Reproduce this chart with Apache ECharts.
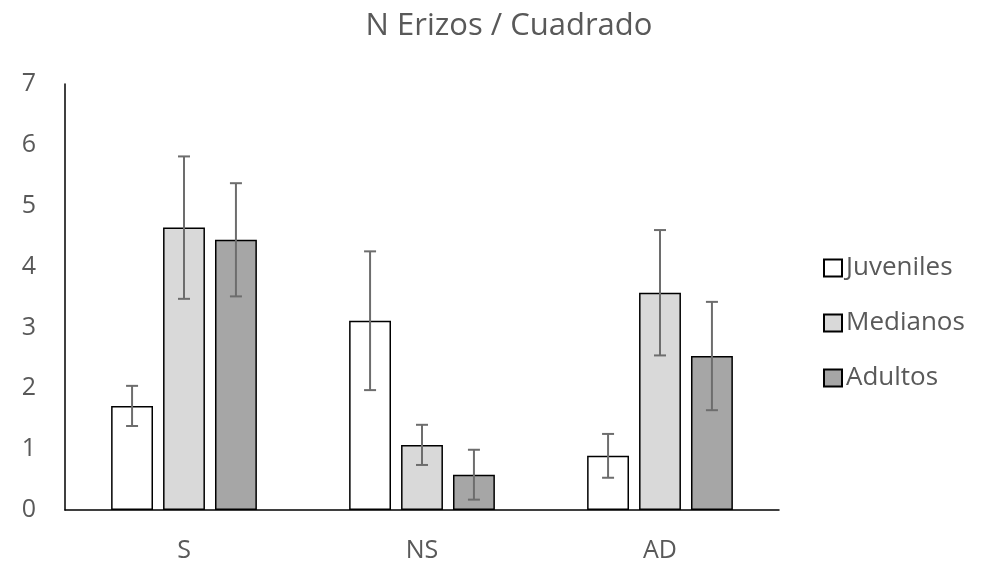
<!DOCTYPE html>
<html>
<head>
<meta charset="utf-8">
<script src="https://cdn.jsdelivr.net/npm/echarts@6/dist/echarts.min.js"></script>
<style>html,body{margin:0;padding:0;background:#fff}#c{width:981px;height:564px}</style>
</head>
<body>
<div id="c"></div>
<script>
const categories = ['S', 'NS', 'AD'];
const seriesNames = ['Juveniles', 'Medianos', 'Adultos'];
const juveniles = [1.71, 3.11, 0.89];
const medianos = [4.64, 1.07, 3.57];
const adultos = [4.44, 0.58, 2.53];
const juvenilesErr = [0.33, 1.14, 0.36];
const medianosErr = [1.17, 0.33, 1.03];
const adultosErr = [0.93, 0.41, 0.89];
const yTicks = [0, 1, 2, 3, 4, 5, 6, 7];

const values = [juveniles, medianos, adultos];
const errs = [juvenilesErr, medianosErr, adultosErr];
const colors = ['#ffffff', '#d9d9d9', '#a6a6a6'];
const FONT = 'Open Sans';
const BW = 0.176, GAP = 0.24;

const chart = echarts.init(document.getElementById('c'));
const series = [];
values.forEach((v, i) => {
  series.push({
    name: seriesNames[i], type: 'bar', data: v,
    barWidth: (BW * 100) + '%', barGap: (GAP * 100) + '%',
    itemStyle: { color: colors[i], borderColor: '#000', borderWidth: 1.5 },
    emphasis: { disabled: true }, z: 2
  });
});
values.forEach((v, i) => {
  series.push({
    type: 'custom', z: 5, silent: true,
    data: v.map((m, k) => [k, m - errs[i][k], m + errs[i][k]]),
    encode: { x: 0, y: [1, 2] },
    renderItem: function (params, api) {
      const band = api.size([1, 0])[0];
      const bw = band * BW;
      const off = (i - 1) * (bw + bw * GAP);
      const lo = api.coord([api.value(0), api.value(1)]);
      const hi = api.coord([api.value(0), api.value(2)]);
      const x = lo[0] + off;
      const cap = 6;
      const st = { stroke: '#6d6d6d', lineWidth: 2 };
      return { type: 'group', children: [
        { type: 'line', shape: { x1: x, y1: lo[1], x2: x, y2: hi[1] }, style: st },
        { type: 'line', shape: { x1: x - cap, y1: lo[1], x2: x + cap, y2: lo[1] }, style: st },
        { type: 'line', shape: { x1: x - cap, y1: hi[1], x2: x + cap, y2: hi[1] }, style: st }
      ]};
    }
  });
});

chart.setOption({
  animation: false,
  backgroundColor: '#ffffff',
  title: {
    text: 'N Erizos / Cuadrado', left: 504, top: 6, textAlign: 'center',
    textStyle: { fontFamily: FONT, fontSize: 31, fontWeight: 'normal', color: '#595959' }
  },
  legend: {
    data: seriesNames, orient: 'vertical', left: 818, top: 250, itemGap: 29,
    padding: [5, 5, 5, 5],
    itemWidth: 18, itemHeight: 17, icon: 'rect',
    textStyle: { fontFamily: FONT, fontSize: 26, color: '#595959', padding: [0, 0, 0, -1] }
  },
  grid: { left: 65, right: 202, top: 84, bottom: 54 },
  xAxis: {
    type: 'category', data: categories,
    axisLine: { lineStyle: { color: '#000', width: 1.5 } },
    axisTick: { show: false },
    axisLabel: { fontFamily: FONT, fontSize: 25, color: '#595959', margin: 28 }
  },
  yAxis: {
    type: 'value', min: yTicks[0], max: yTicks[yTicks.length - 1], interval: 1,
    axisLine: { show: true, lineStyle: { color: '#000', width: 1.5 } },
    axisTick: { show: false },
    splitLine: { show: false },
    axisLabel: { fontFamily: FONT, fontSize: 25, color: '#595959', margin: 29 }
  },
  series: series
});
</script>
</body>
</html>
